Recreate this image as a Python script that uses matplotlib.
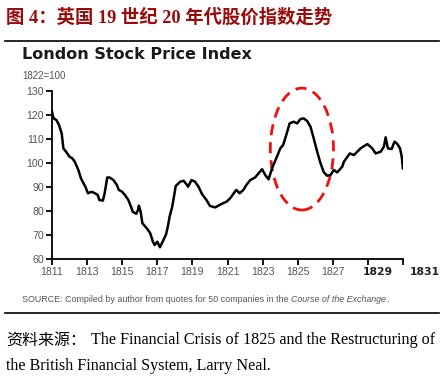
import matplotlib
matplotlib.use("Agg")
import matplotlib.pyplot as plt
from matplotlib.patches import Ellipse
from matplotlib.transforms import ScaledTranslation

# London stock price index, 1822 = 100
years = [1811.00, 1811.05, 1811.10, 1811.25, 1811.40, 1811.55, 1811.65, 1811.80,
         1812.00, 1812.15, 1812.30, 1812.50, 1812.65, 1812.90, 1813.05, 1813.25,
         1813.45, 1813.60, 1813.70, 1813.90, 1814.00, 1814.15, 1814.30, 1814.50,
         1814.70, 1814.80, 1815.00, 1815.15, 1815.35, 1815.50, 1815.60, 1815.80,
         1815.90, 1815.95, 1816.05, 1816.15, 1816.40, 1816.60, 1816.75, 1816.85,
         1817.00, 1817.15, 1817.35, 1817.50, 1817.60, 1817.70, 1817.85, 1817.95,
         1818.05, 1818.30, 1818.50, 1818.70, 1818.75, 1818.95, 1819.15, 1819.35,
         1819.55, 1819.80, 1820.00, 1820.30, 1820.45, 1820.65, 1820.95, 1821.15,
         1821.50, 1821.69, 1821.91, 1822.07, 1822.30, 1822.58, 1822.77, 1822.97,
         1823.15, 1823.34, 1823.54, 1823.78, 1824.01, 1824.17, 1824.35, 1824.54,
         1824.77, 1824.97, 1825.15, 1825.34, 1825.54, 1825.73, 1825.91, 1826.11,
         1826.30, 1826.49, 1826.68, 1826.87, 1827.06, 1827.25, 1827.54, 1827.63,
         1827.97, 1828.20, 1828.49, 1828.58, 1828.97, 1829.25, 1829.44, 1829.73,
         1829.91, 1830.01, 1830.14, 1830.35, 1830.52, 1830.68, 1830.83, 1830.93,
         1830.99]
index = [121.5, 119.5, 118.6, 117.9, 115.8, 112.4, 106.1, 104.7,
         102.6, 102.0, 100.5, 97.1, 93.6, 90.1, 87.4, 88.0,
         87.4, 86.7, 84.6, 84.3, 87.4, 94.0, 93.9, 92.9,
         90.8, 88.8, 88.0, 86.7, 84.6, 81.8, 79.7, 78.8,
         80.4, 82.2, 79.7, 74.9, 72.8, 70.7, 67.2, 65.8,
         67.2, 64.9, 67.9, 70.3, 73.5, 77.6, 81.8, 86.0,
         90.4, 92.2, 92.6, 90.8, 90.1, 92.9, 92.2, 90.1,
         87.0, 84.6, 82.1, 81.5, 82.1, 82.9, 83.9, 85.3,
         88.8, 87.4, 88.8, 90.8, 92.9, 94.0, 95.7, 97.4,
         95.0, 93.2, 97.8, 102.0, 106.1, 107.5, 111.7, 116.5,
         117.2, 116.5, 118.3, 118.6, 117.5, 115.1, 110.3, 104.7,
         99.9, 96.1, 94.7, 95.0, 97.1, 96.1, 98.5, 100.5,
         104.0, 103.3, 105.4, 106.1, 107.9, 106.1, 104.0, 104.7,
         106.8, 110.7, 106.1, 105.8, 108.9, 107.9, 106.1, 102.6,
         97.8]

xticks = [1811, 1813, 1815, 1817, 1819, 1821, 1823, 1825, 1827, 1829, 1831]
yticks = [60, 70, 80, 90, 100, 110, 120, 130]

W, H = 445, 384
fig = plt.figure(figsize=(W / 100, H / 100), dpi=100)
fig.patch.set_facecolor("white")

def fx(px):
    return px / W

def fy(py):
    return 1 - py / H

serif = ["Liberation Serif", "Noto Sans CJK SC"]
narrow = ["Liberation Sans Narrow", "Liberation Sans", "DejaVu Sans"]

# heading + rules
fig.text(fx(6), fy(18), "图 4：英国 19 世纪 20 年代股价指数走势", family=serif,
         fontsize=13.2, fontweight="bold", color="#9b0a0a", va="center")
fig.add_artist(plt.Line2D([fx(5), fx(439)], [fy(40.5), fy(40.5)], color="black", lw=1.2))
fig.add_artist(plt.Line2D([fx(5), fx(439)], [fy(313), fy(313)], color="black", lw=1.2))

fig.text(fx(22), fy(54.5), "London Stock Price Index", family=["DejaVu Sans"],
         fontsize=11.5, fontweight="bold", color="#1a1a1a", va="center")
fig.text(fx(22), fy(76), "1822=100", family=narrow, fontsize=7, color="#555555", va="center")

ax = fig.add_axes([fx(52), fy(259), fx(403) - fx(52), (259 - 91) / H])
ax.plot(years, index, color="black", lw=1.8, solid_joinstyle="round")
ax.set_xlim(1811, 1831)
ax.set_ylim(60, 130)
ax.set_xticks(xticks)
ax.set_yticks(yticks)
for s in ["top", "right"]:
    ax.spines[s].set_visible(False)
for s in ["left", "bottom"]:
    ax.spines[s].set_linewidth(1.3)
ax.tick_params(length=4, width=1.3, color="black", labelcolor="#555555", labelsize=7.6, pad=2)
for lab in ax.get_xticklabels() + ax.get_yticklabels():
    lab.set_family(narrow)

# last two year labels are bold and pushed right
labs = ax.get_xticklabels()
for lab, dx in [(labs[-2], 10), (labs[-1], 22)]:
    lab.set_fontweight("bold")
    lab.set_family(["DejaVu Sans"])
    lab.set_fontsize(7.8)
    lab.set_color("#222222")
    lab.set_transform(lab.get_transform() + ScaledTranslation(dx / 100, 0, fig.dpi_scale_trans))

# the bubble marker
ell = Ellipse((1825.24, 105.8), 3.6, 50.8, fill=False, ec="#ee1111", lw=2.0,
              ls=(0, (4, 2.5)), clip_on=False)
ax.add_patch(ell)

# source line with italic title
fs_src = 6.4
t1 = fig.text(fx(22), fy(299), "SOURCE: Compiled by author from quotes for 50 companies in the ",
              family=narrow, fontsize=fs_src, color="#555555", va="center")
fig.canvas.draw()
bb = t1.get_window_extent()
t2 = fig.text(bb.x1 / W, fy(299), "Course of the Exchange", family=narrow, fontsize=fs_src,
              style="italic", color="#555555", va="center")
bb2 = t2.get_window_extent(fig.canvas.get_renderer())
fig.text(bb2.x1 / W, fy(299), ".", family=narrow, fontsize=fs_src, color="#555555", va="center")

fig.text(fx(6), fy(340.5), "资料来源：", family=serif, fontsize=11.5, color="black", va="center")
fig.text(fx(91), fy(340.5), "The Financial Crisis of 1825 and the Restructuring of",
         family=serif, fontsize=11.6, color="black", va="center")
fig.text(fx(6), fy(366.5), "the British Financial System, Larry Neal.",
         family=serif, fontsize=11.6, color="black", va="center")

fig.savefig("out.png", dpi=100)
